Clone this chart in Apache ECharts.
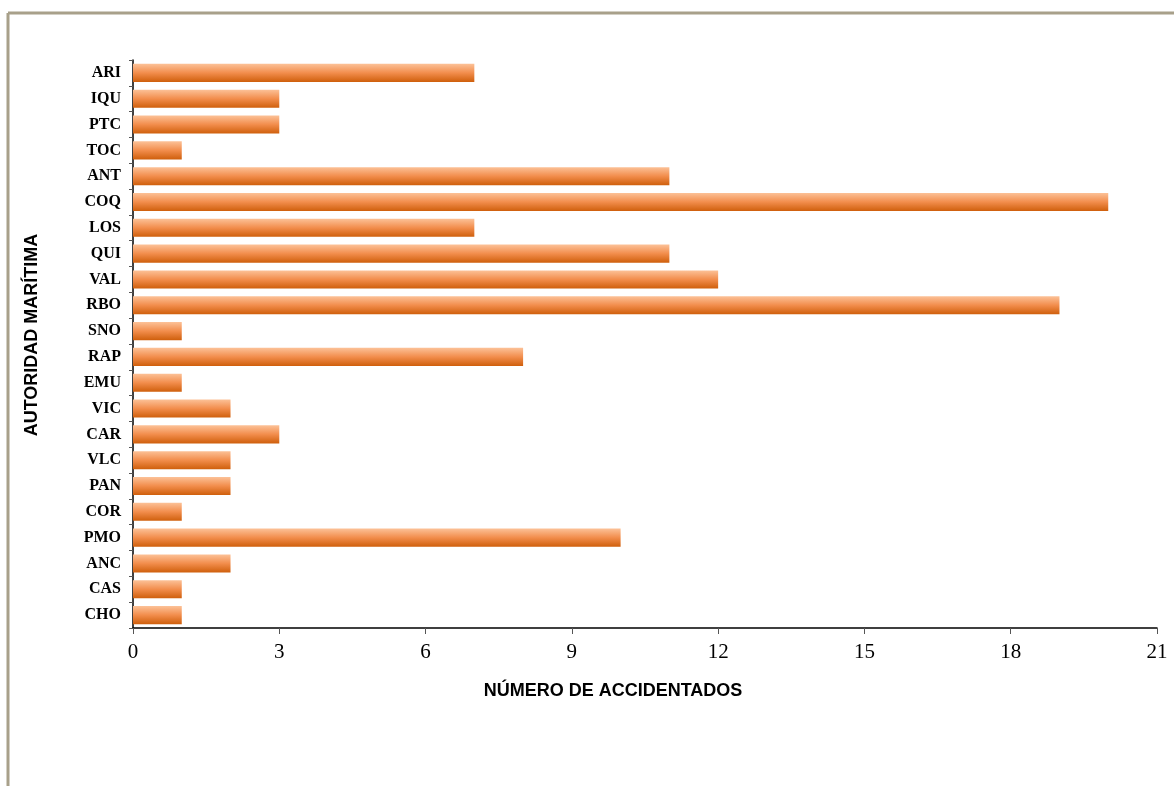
<!DOCTYPE html>
<html>
<head>
<meta charset="utf-8">
<script src="https://cdn.jsdelivr.net/npm/echarts@6/dist/echarts.min.js"></script>
<style>
html,body{margin:0;padding:0;background:#fff;}
#chart{width:1174px;height:786px;}
</style>
</head>
<body>
<div id="chart"></div>
<script>
const categories = ['ARI','IQU','PTC','TOC','ANT','COQ','LOS','QUI','VAL','RBO','SNO','RAP','EMU','VIC','CAR','VLC','PAN','COR','PMO','ANC','CAS','CHO'];
const values = [7,3,3,1,11,20,7,11,12,19,1,8,1,2,3,2,2,1,10,2,1,1];
const xTicks = [0,3,6,9,12,15,18,21];
const xTitle = 'NÚMERO DE ACCIDENTADOS';
const yTitle = 'AUTORIDAD MARÍTIMA';

const chart = echarts.init(document.getElementById('chart'), null, {renderer:'canvas'});
chart.setOption({
  backgroundColor:'#ffffff',
  animation:false,
  grid:{left:133,right:17,top:60,bottom:158,containLabel:false},
  xAxis:{
    type:'value', min:xTicks[0], max:xTicks[xTicks.length-1], interval:3,
    axisLine:{show:true,lineStyle:{color:'#000',width:1.5}},
    axisTick:{show:true,length:6,lineStyle:{color:'#555',width:1}},
    splitLine:{show:false},
    axisLabel:{fontFamily:'Liberation Serif',fontSize:21,color:'#000',margin:14}
  },
  yAxis:{
    type:'category', data:categories, inverse:true,
    axisLine:{show:true,lineStyle:{color:'#000',width:1.5}},
    axisTick:{show:true,length:4,lineStyle:{color:'#555',width:1}},
    axisLabel:{fontFamily:'Liberation Serif',fontWeight:'bold',fontSize:16,color:'#000',margin:12}
  },
  series:[{
    type:'bar', data:values, barCategoryGap:'30%',
    itemStyle:{color:new echarts.graphic.LinearGradient(0,0,0,1,[
      {offset:0,color:'#fcc197'},
      {offset:0.5,color:'#f28d4c'},
      {offset:1,color:'#cf5f0c'}
    ])}
  }],
  graphic:[
    {type:'line',shape:{x1:8,y1:13,x2:1174,y2:13},style:{stroke:'#a8a08a',lineWidth:3},z:0},
    {type:'line',shape:{x1:8,y1:13,x2:8,y2:786},style:{stroke:'#a8a08a',lineWidth:3},z:0},
    {type:'text',x:613,y:691,style:{text:xTitle,fontFamily:'Liberation Sans',fontWeight:'bold',fontSize:18,fill:'#000',align:'center',verticalAlign:'middle'}},
    {type:'text',x:32,y:335,rotation:Math.PI/2,style:{text:yTitle,fontFamily:'Liberation Sans',fontWeight:'bold',fontSize:18,fill:'#000',align:'center',verticalAlign:'middle'}}
  ]
});
</script>
</body>
</html>
